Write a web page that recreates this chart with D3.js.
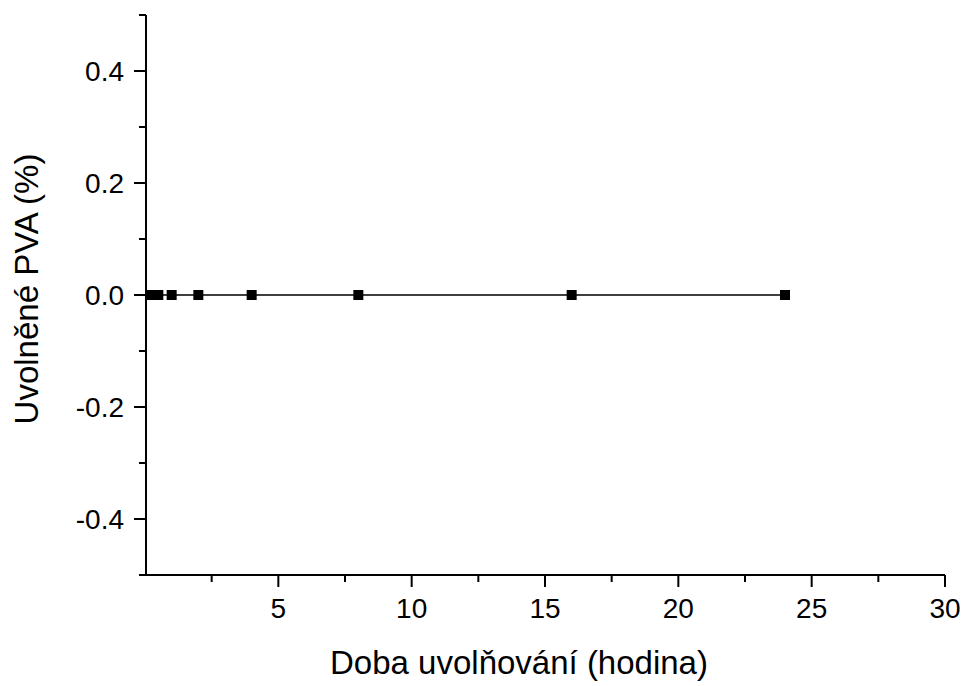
<!DOCTYPE html>
<html>
<head>
<meta charset="utf-8">
<script src="https://cdn.jsdelivr.net/npm/d3@7"></script>
<style>
  body { margin: 0; background: #fff; }
  text { font-family: "Liberation Sans", Arial, sans-serif; fill: #000; }
</style>
</head>
<body>
<script>
// release time (h) and released PVA (%)
var hours = [0.25, 0.5, 1, 2, 4, 8, 16, 24];
var released = [0, 0, 0, 0, 0, 0, 0, 0];
var xTicks = [5, 10, 15, 20, 25, 30];
var yTicks = [-0.4, -0.2, 0.0, 0.2, 0.4];

var width = 964, height = 686;
var svg = d3.select("body").append("svg")
    .attr("width", width)
    .attr("height", height);

var x = d3.scaleLinear().domain([0, 30]).range([145, 945]);
var y = d3.scaleLinear().domain([-0.5, 0.5]).range([575, 15]);

// x axis
var xAxis = svg.append("g").attr("transform", "translate(0,575)");
xAxis.append("line")
    .attr("x1", 141).attr("x2", 945)
    .attr("stroke", "#000").attr("stroke-width", 2);
xAxis.selectAll(".minor")
    .data(d3.range(2.5, 30, 5))
    .enter().append("line")
    .attr("x1", function (d) { return x(d); })
    .attr("x2", function (d) { return x(d); })
    .attr("y1", 0).attr("y2", 7)
    .attr("stroke", "#000").attr("stroke-width", 2);
xAxis.selectAll(".major")
    .data(xTicks)
    .enter().append("line")
    .attr("x1", function (d) { return x(d); })
    .attr("x2", function (d) { return x(d); })
    .attr("y1", 0).attr("y2", 12)
    .attr("stroke", "#000").attr("stroke-width", 2);
xAxis.selectAll(".lbl")
    .data(xTicks)
    .enter().append("text")
    .attr("x", function (d) { return x(d); })
    .attr("y", 43)
    .attr("text-anchor", "middle")
    .style("font-size", "28px")
    .text(function (d) { return d; });

// y axis
var yAxis = svg.append("g").attr("transform", "translate(146,0)");
yAxis.append("line")
    .attr("y1", 15).attr("y2", 576)
    .attr("stroke", "#000").attr("stroke-width", 2);
yAxis.selectAll(".minor")
    .data(d3.range(-5, 6, 2).map(function (d) { return d / 10; }))
    .enter().append("line")
    .attr("y1", function (d) { return y(d); })
    .attr("y2", function (d) { return y(d); })
    .attr("x1", 0).attr("x2", -7)
    .attr("stroke", "#000").attr("stroke-width", 2);
yAxis.selectAll(".major")
    .data(yTicks)
    .enter().append("line")
    .attr("y1", function (d) { return y(d); })
    .attr("y2", function (d) { return y(d); })
    .attr("x1", 0).attr("x2", -12)
    .attr("stroke", "#000").attr("stroke-width", 2);
yAxis.selectAll(".lbl")
    .data(yTicks)
    .enter().append("text")
    .attr("x", -22)
    .attr("y", function (d) { return y(d); })
    .attr("dy", "0.36em")
    .attr("text-anchor", "end")
    .style("font-size", "28px")
    .text(function (d) { return d3.format(".1f")(d).replace("−", "-"); });

// axis titles
svg.append("text")
    .attr("x", 519).attr("y", 674)
    .attr("text-anchor", "middle")
    .style("font-size", "33px")
    .text("Doba uvolňování (hodina)");
svg.append("text")
    .attr("transform", "translate(38,289) rotate(-90)")
    .attr("text-anchor", "middle")
    .style("font-size", "33px")
    .text("Uvolněné PVA (%)");

// series
var pts = hours.map(function (h, i) { return { h: h, v: released[i] }; });
var line = d3.line()
    .x(function (d) { return x(d.h); })
    .y(function (d) { return y(d.v); });
svg.append("path")
    .datum([{ h: 0, v: 0 }].concat(pts))
    .attr("d", line)
    .attr("fill", "none")
    .attr("stroke", "#000")
    .attr("stroke-width", 1.3);
svg.selectAll(".pt")
    .data(pts)
    .enter().append("rect")
    .attr("x", function (d) { return x(d.h) - 5; })
    .attr("y", function (d) { return y(d.v) - 5; })
    .attr("width", 10).attr("height", 10)
    .attr("fill", "#000");
</script>
</body>
</html>
